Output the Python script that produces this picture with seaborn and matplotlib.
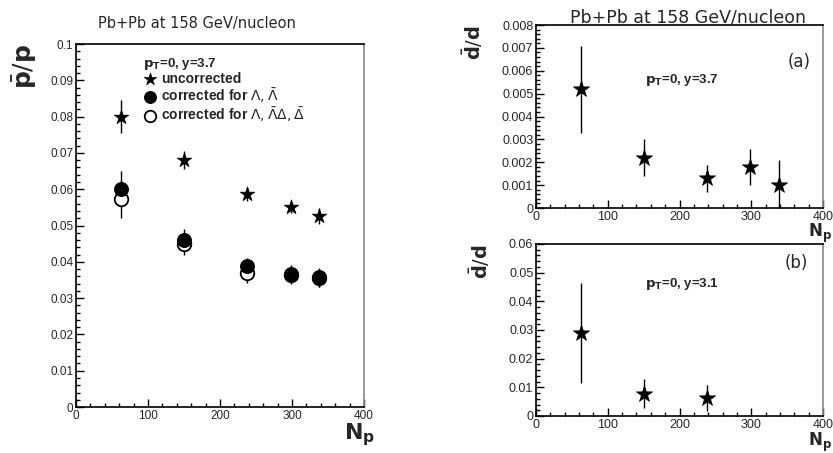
import numpy as np
import pandas as pd
import matplotlib
matplotlib.use('Agg')
import matplotlib.pyplot as plt
import seaborn as sns
from matplotlib.ticker import MultipleLocator, FuncFormatter

# number of participants (x positions)
npart = [62, 150, 238, 298, 338]
npart_b = [62, 150, 238]

# pbar/p, pT=0, y=3.7
pbar_unc = [0.0800, 0.0680, 0.0587, 0.0550, 0.0525]
pbar_unc_err = [0.0045, 0.0025, 0.0020, 0.0015, 0.0022]
pbar_lam = [0.0600, 0.0461, 0.0389, 0.0366, 0.0357]
pbar_lam_err = [0.0050, 0.0030, 0.0022, 0.0025, 0.0025]
pbar_lamdel = [0.0572, 0.0450, 0.0368, 0.0364, 0.0355]
pbar_lamdel_err = [0.0050, 0.0030, 0.0025, 0.0025, 0.0025]

# dbar/d
dbar_a = [0.0052, 0.0022, 0.0013, 0.0018, 0.0010]
dbar_a_err = [0.0019, 0.0008, 0.0006, 0.0008, 0.0011]
dbar_b = [0.0290, 0.0078, 0.0062]
dbar_b_err = [0.0175, 0.0050, 0.0045]

sns.set_style('white')
plt.rcParams['font.family'] = ['Liberation Sans', 'DejaVu Sans']
plt.rcParams['mathtext.fontset'] = 'dejavusans'

fmt = FuncFormatter(lambda v, p: '%g' % round(v, 6))


def style_axes(ax, ymax, ymajor, yminor, lsize):
    ax.set_xlim(0, 400)
    ax.set_ylim(0, ymax)
    ax.xaxis.set_major_locator(MultipleLocator(100))
    ax.xaxis.set_minor_locator(MultipleLocator(20))
    ax.yaxis.set_major_locator(MultipleLocator(ymajor))
    ax.yaxis.set_minor_locator(MultipleLocator(yminor))
    ax.yaxis.set_major_formatter(fmt)
    ax.tick_params(which='both', direction='in', bottom=True, left=True,
                   top=False, right=False, labelsize=lsize, width=1,
                   color='black', pad=2)
    ax.tick_params(which='major', length=6)
    ax.tick_params(which='minor', length=3)
    for s in ['left', 'bottom', 'top']:
        ax.spines[s].set_color('black')
        ax.spines[s].set_linewidth(1.2)
    ax.spines['right'].set_color('#888888')
    ax.spines['right'].set_linewidth(1.2)
    ax.set_xlabel('')
    ax.set_ylabel('')


fig = plt.figure(figsize=(8.33, 4.53), dpi=100)
ax0 = fig.add_axes([0.0912, 0.1015, 0.3457, 0.8013])
ax1 = fig.add_axes([0.6435, 0.5408, 0.3445, 0.4040])
ax2 = fig.add_axes([0.6435, 0.0817, 0.3445, 0.3797])

# ---- left panel ----
df = pd.DataFrame({'npart': npart * 3,
                   'ratio': pbar_unc + pbar_lam + pbar_lamdel,
                   'err': pbar_unc_err + pbar_lam_err + pbar_lamdel_err,
                   'series': ['unc'] * 5 + ['lam'] * 5 + ['lamdel'] * 5})

for key in ['unc', 'lamdel', 'lam']:
    d = df[df.series == key]
    ax0.errorbar(d.npart, d.ratio, yerr=d.err, fmt='none', ecolor='black',
                 elinewidth=1, capsize=0, zorder=1)

d = df[df.series == 'unc']
sns.scatterplot(x=d.npart, y=d.ratio, marker='*', s=120, color='black',
                edgecolor='black', linewidth=0.5, label='uncorrected', ax=ax0, zorder=3)
d = df[df.series == 'lamdel']
sns.scatterplot(x=d.npart, y=d.ratio, marker='o', s=95, color='white',
                edgecolor='black', linewidth=1.3,
                label=r'corrected for $\Lambda,\bar{\Lambda}\Delta,\bar{\Delta}$', ax=ax0, zorder=2)
d = df[df.series == 'lam']
sns.scatterplot(x=d.npart, y=d.ratio, marker='o', s=95, color='black',
                edgecolor='black', linewidth=1,
                label=r'corrected for $\Lambda,\bar{\Lambda}$', ax=ax0, zorder=3)

style_axes(ax0, 0.1, 0.01, 0.002, 8.5)
handles, labels = ax0.get_legend_handles_labels()
order = [0, 2, 1]
leg = ax0.legend([handles[i] for i in order], [labels[i] for i in order],
                 title=r'$\mathbf{p_T}$=0, y=3.7', loc='upper left',
                 bbox_to_anchor=(0.2, 0.995), frameon=False, handlelength=1.0,
                 handletextpad=0.25, labelspacing=0.02, borderpad=0.2,
                 alignment='left', markerscale=0.85,
                 prop={'weight': 'bold', 'size': 10},
                 title_fontproperties={'weight': 'bold', 'size': 9.5})
ax0.set_ylabel(r'$\bar{\mathbf{p}}/\mathbf{p}$', fontsize=18, loc='top')
ax0.yaxis.set_label_coords(-0.13, 1.0)
ax0.set_xlabel(r'$\mathbf{N_p}$', fontsize=16, loc='right')
ax0.xaxis.set_label_coords(1.04, -0.04)
fig.text(0.237, 0.949, 'Pb+Pb at 158 GeV/nucleon', ha='center', va='center',
         fontsize=10.5, family='DejaVu Sans')

# ---- right top panel (a) ----
ax1.errorbar(npart, dbar_a, yerr=dbar_a_err, fmt='none', ecolor='black',
             elinewidth=1, capsize=0, zorder=1)
sns.scatterplot(x=npart, y=dbar_a, marker='*', s=150, color='black',
                edgecolor='black', linewidth=0.5, ax=ax1, zorder=3)
style_axes(ax1, 0.008, 0.001, 0.0002, 9)
ax1.text(0.916, 0.80, '(a)', transform=ax1.transAxes, ha='center', va='center',
         fontsize=12, family='DejaVu Sans')
ax1.text(0.38, 0.70, r'$\mathbf{p_T}$=0, y=3.7', transform=ax1.transAxes,
         ha='left', va='center', fontsize=9.5, fontweight='bold')
ax1.set_ylabel(r'$\bar{\mathbf{d}}/\mathbf{d}$', fontsize=14, loc='top')
ax1.yaxis.set_label_coords(-0.178, 1.0)
ax1.set_xlabel(r'$\mathbf{N_p}$', fontsize=12, loc='right')
ax1.xaxis.set_label_coords(1.03, -0.075)
fig.text(0.826, 0.962, 'Pb+Pb at 158 GeV/nucleon', ha='center', va='center',
         fontsize=12.5, family='DejaVu Sans')

# ---- right bottom panel (b) ----
ax2.errorbar(npart_b, dbar_b, yerr=dbar_b_err, fmt='none', ecolor='black',
             elinewidth=1, capsize=0, zorder=1)
sns.scatterplot(x=npart_b, y=dbar_b, marker='*', s=150, color='black',
                edgecolor='black', linewidth=0.5, ax=ax2, zorder=3)
style_axes(ax2, 0.06, 0.01, 0.002, 9)
ax2.text(0.906, 0.89, '(b)', transform=ax2.transAxes, ha='center', va='center',
         fontsize=12, family='DejaVu Sans')
ax2.text(0.38, 0.767, r'$\mathbf{p_T}$=0, y=3.1', transform=ax2.transAxes,
         ha='left', va='center', fontsize=9.5, fontweight='bold')
ax2.set_ylabel(r'$\bar{\mathbf{d}}/\mathbf{d}$', fontsize=14, loc='top')
ax2.yaxis.set_label_coords(-0.153, 1.0)
ax2.set_xlabel(r'$\mathbf{N_p}$', fontsize=12, loc='right')
ax2.xaxis.set_label_coords(1.03, -0.085)

fig.savefig('out.png', dpi=100, facecolor='white')
